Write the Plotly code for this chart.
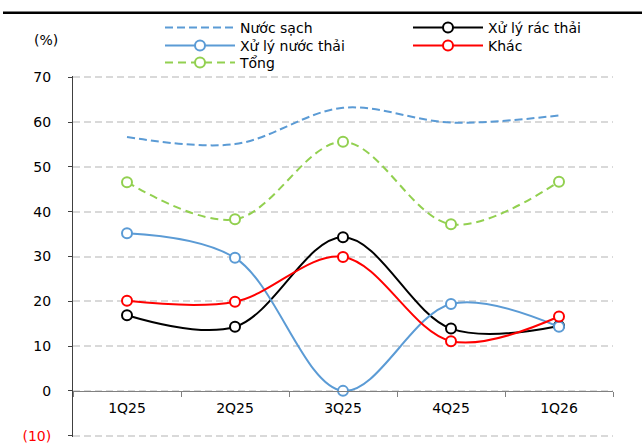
import plotly.graph_objects as go

# Quarterly data
quarters = ["1Q25", "2Q25", "3Q25", "4Q25", "1Q26"]
nuoc_sach = [56.7, 55.1, 63.2, 59.9, 61.5]
xu_ly_rac_thai = [16.9, 14.3, 34.3, 13.9, 14.5]
xu_ly_nuoc_thai = [35.2, 29.7, 0.0, 19.4, 14.3]
khac = [20.1, 19.9, 29.9, 11.1, 16.6]
tong = [46.6, 38.3, 55.6, 37.2, 46.7]

y_ticks = [-10, 0, 10, 20, 30, 40, 50, 60, 70]
y_ticktext = ["<span style='color:#ff0000'>(10)</span>", "0", "10", "20", "30", "40", "50", "60", "70"]
y_range = [-10.3, 70.3]

FONT = "'DejaVu Sans', Verdana, sans-serif"
FS = 14
BLUE = "#5b9bd5"
GREEN = "#92d050"
RED = "#ff0000"

# page / plot-area geometry (px)
W, H = 642, 443
ML, MR, MT, MB = 73, 29, 76, 6
PW, PH = W - ML - MR, H - MT - MB


def px_x(px):
    return (px - ML) / PW


def px_y(py):
    return (H - MB - py) / PH


def marker(color):
    return dict(symbol="circle", size=10, color="white", line=dict(color=color, width=2))


def spline(color, dash="solid"):
    return dict(color=color, width=2, dash=dash, shape="spline", smoothing=1)


fig = go.Figure()
fig.add_trace(go.Scatter(
    x=quarters, y=nuoc_sach, name="Nước sạch", mode="lines", legend="legend",
    line=spline(BLUE, "8px,4px"),
))
fig.add_trace(go.Scatter(
    x=quarters, y=xu_ly_rac_thai, name="Xử lý rác thải", mode="lines+markers", legend="legend2",
    line=spline("black"), marker=marker("black"),
))
fig.add_trace(go.Scatter(
    x=quarters, y=xu_ly_nuoc_thai, name="Xử lý nước thải", mode="lines+markers", legend="legend3",
    line=spline(BLUE), marker=marker(BLUE),
))
fig.add_trace(go.Scatter(
    x=quarters, y=khac, name="Khác", mode="lines+markers", legend="legend4",
    line=spline(RED), marker=marker(RED),
))
fig.add_trace(go.Scatter(
    x=quarters, y=tong, name="Tổng", mode="lines+markers", legend="legend5",
    line=spline(GREEN, "8px,5px"), marker=marker(GREEN),
))


def legend_at(px, py):
    # one legend entry, left edge at px, vertically centred on py
    return dict(
        orientation="h", x=px_x(px), xanchor="left", y=px_y(py), yanchor="middle",
        xref="paper", yref="paper", itemwidth=70,
        font=dict(family=FONT, size=FS, color="black"),
        bgcolor="rgba(0,0,0,0)", itemclick=False, itemdoubleclick=False,
    )


fig.update_layout(
    width=W, height=H,
    margin=dict(l=ML, r=MR, t=MT, b=MB, autoexpand=False),
    paper_bgcolor="white", plot_bgcolor="white",
    font=dict(family=FONT, size=FS, color="black"),
    showlegend=True,
    legend=legend_at(160, 28),
    legend2=legend_at(408, 28),
    legend3=legend_at(160, 46),
    legend4=legend_at(408, 46),
    legend5=legend_at(160, 63),
    xaxis=dict(
        type="category", range=[-0.5, 4.5], automargin=False,
        anchor="free", position=-y_range[0] / (y_range[1] - y_range[0]),
        showline=True, linecolor="#808080", linewidth=1,
        ticks="outside", tickson="boundaries", ticklen=5, tickcolor="#808080",
        showgrid=False, zeroline=False,
        tickfont=dict(family=FONT, size=FS, color="black"),
        ticklabelstandoff=4,
    ),
    yaxis=dict(
        range=y_range, tickvals=y_ticks, ticktext=y_ticktext, automargin=False,
        showline=True, linecolor="#404040", linewidth=1,
        ticks="outside", ticklen=4, tickcolor="#404040",
        showgrid=True, gridcolor="#d9d9d9", gridwidth=1.5, griddash="7px,4px",
        zeroline=False, ticklabeloverflow="allow",
        tickfont=dict(family=FONT, size=FS, color="black"),
        ticklabelstandoff=14,
    ),
    shapes=[
        dict(type="line", xref="paper", yref="paper", layer="above",
             x0=px_x(3), x1=px_x(W), y0=px_y(12.7), y1=px_y(12.7),
             line=dict(color="black", width=2.5)),
    ],
    annotations=[
        dict(text="(%)", xref="paper", yref="paper",
             x=px_x(32), y=px_y(40), xanchor="left", yanchor="middle",
             showarrow=False, font=dict(family=FONT, size=FS, color="black")),
    ],
)

fig.write_html("out.html")
